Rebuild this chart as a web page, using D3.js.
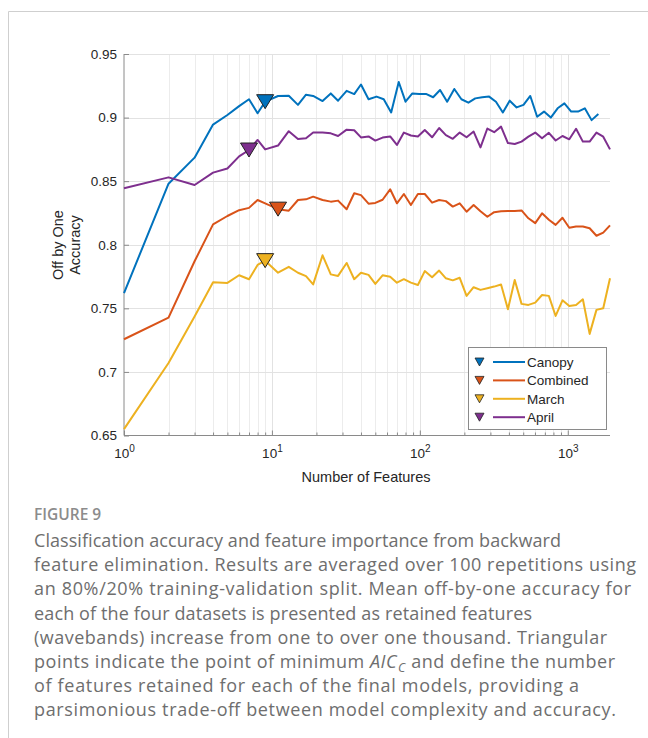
<!DOCTYPE html>
<html>
<head>
<meta charset="utf-8">
<script src="https://cdn.jsdelivr.net/npm/d3@7"></script>
<style>
  body { margin: 0; background: #fff; }
  svg { display: block; }
</style>
</head>
<body>
<svg id="fig" width="648" height="738"></svg>
<script>
// feature counts kept after each elimination step
const features = [1, 2, 3, 4, 5, 6, 7, 8, 9, 11, 13, 15, 17, 19, 22, 25, 28, 32, 36, 40, 45,
  50, 56, 63, 70, 78, 87, 97, 108, 121, 135, 150, 167, 186, 207, 231, 257, 286, 318, 354, 394,
  438, 487, 542, 603, 670, 745, 828, 921, 1024, 1138, 1265, 1406, 1563, 1737, 1930];
const canopyFeatures = [1, 2, 3, 4, 5, 6, 7, 8, 9, 11, 13, 15, 17, 19, 22, 25, 28, 32, 36, 40, 45,
  51, 57, 64, 72, 80, 89, 99, 110, 123, 137, 153, 171, 191, 213, 237, 264, 294, 327, 364, 405,
  451, 502, 558, 621, 691, 768, 854, 949, 1055, 1173, 1304, 1449, 1610];

const canopy = [0.762, 0.848, 0.8685, 0.8945, 0.902, 0.909, 0.9144, 0.9034, 0.9125,
  0.917, 0.9172, 0.910, 0.918, 0.917, 0.913, 0.919, 0.9133, 0.921, 0.9185, 0.926, 0.9144,
  0.9165, 0.9144, 0.904, 0.928, 0.9125, 0.919, 0.9186, 0.9186, 0.916, 0.9217,
  0.9125, 0.9225, 0.9144, 0.9117, 0.9151, 0.916, 0.9165, 0.9125, 0.904, 0.9133,
  0.908, 0.910, 0.917, 0.9007, 0.9047, 0.900, 0.9073, 0.9112, 0.9047, 0.9047,
  0.9073, 0.898, 0.9028];
const combined = [0.7257, 0.7427, 0.787, 0.816, 0.8226, 0.8272, 0.829, 0.8352, 0.8326,
  0.828, 0.8268, 0.8352, 0.8357, 0.8378, 0.8352, 0.8339, 0.8347, 0.8279, 0.8405, 0.839, 0.8323,
  0.8329, 0.8354, 0.8436, 0.8326, 0.8399, 0.8313, 0.8399, 0.8399, 0.8331, 0.8352,
  0.8343, 0.830, 0.8326, 0.826, 0.8313, 0.8264, 0.822, 0.8256, 0.8263, 0.8266,
  0.8266, 0.827, 0.8208, 0.817, 0.8247, 0.8197, 0.8156, 0.8212, 0.8134, 0.8143,
  0.8143, 0.813, 0.8071, 0.8095, 0.8152];
const march = [0.655, 0.707, 0.7435, 0.7705, 0.770, 0.776, 0.7729, 0.7841, 0.7875,
  0.778, 0.7826, 0.778, 0.7753, 0.7688, 0.7917, 0.7767, 0.7755, 0.7857, 0.7729, 0.778, 0.7763,
  0.7692, 0.776, 0.7748, 0.7702, 0.7729, 0.7702, 0.7684, 0.7793, 0.7745, 0.7797,
  0.7736, 0.772, 0.774, 0.7598, 0.7666, 0.7645, 0.7658, 0.7671, 0.7687, 0.7493,
  0.7723, 0.7535, 0.7527, 0.7545, 0.7605, 0.7598, 0.744, 0.7563, 0.7519, 0.7527,
  0.7571, 0.7299, 0.7488, 0.7501, 0.7736];
const april = [0.8444, 0.853, 0.847, 0.8567, 0.86, 0.8695, 0.8745, 0.8824, 0.875,
  0.878, 0.8893, 0.8832, 0.8837, 0.8882, 0.8882, 0.8876, 0.8855, 0.8905, 0.89, 0.8844, 0.8852,
  0.8819, 0.8843, 0.8852, 0.8785, 0.8882, 0.8859, 0.8852, 0.8902, 0.8845, 0.8918,
  0.8862, 0.8833, 0.8882, 0.8845, 0.889, 0.8766, 0.8914, 0.8885, 0.8929, 0.880,
  0.8792, 0.8811, 0.885, 0.8882, 0.8837, 0.888, 0.882, 0.8855, 0.8829, 0.8912,
  0.8811, 0.8811, 0.8882, 0.885, 0.875];

const seriesNames = ['Canopy', 'Combined', 'March', 'April'];
const seriesColors = ['#0072BD', '#D95319', '#EDB120', '#7E2F8E'];
const minAicFeatures = [9, 11, 9, 7];

const yTicks = [0.65, 0.7, 0.75, 0.8, 0.85, 0.9, 0.95];
const xMajor = [1, 10, 100, 1000];
const xMinor = [2, 3, 4, 5, 6, 7, 8, 9, 20, 30, 40, 50, 60, 70, 80, 90,
  200, 300, 400, 500, 600, 700, 800, 900];

const captionTitle = 'FIGURE 9';
const captionLines = [
  'Classification accuracy and feature importance from backward',
  'feature elimination. Results are averaged over 100 repetitions using',
  'an 80%/20% training-validation split. Mean off-by-one accuracy for',
  'each of the four datasets is presented as retained features',
  '(wavebands) increase from one to over one thousand. Triangular',
  'points indicate the point of minimum ',
  'of features retained for each of the final models, providing a',
  'parsimonious trade-off between model complexity and accuracy.'
];
// right end of each caption line in the reference
const captionEnds = [561, 636, 631, 532, 607, 615, 579, 616];

const svg = d3.select('#fig');
const font = 'Liberation Sans, Arial, Helvetica, sans-serif';

// figure frame
svg.append('path')
  .attr('d', 'M8.5,738 V11.5 H648')
  .attr('fill', 'none')
  .attr('stroke', '#cfcfcf')
  .attr('stroke-width', 1);

const x = d3.scaleLog().domain([1, 1930]).range([124, 610]);
const y = d3.scaleLinear().domain([0.65, 0.95]).range([435.5, 54]);

// grid
let grid = svg.append('g').attr('class', 'grid');
grid.selectAll('.vminor').data(xMinor)
  .join('line')
  .attr('class', 'vminor')
  .attr('x1', d => Math.round(x(d)) + 0.5).attr('x2', d => Math.round(x(d)) + 0.5)
  .attr('y1', y(0.95)).attr('y2', y(0.65))
  .attr('stroke', '#ececec');
grid.selectAll('.vmajor').data(xMajor.slice(1))
  .join('line')
  .attr('class', 'vmajor')
  .attr('x1', d => Math.round(x(d)) + 0.5).attr('x2', d => Math.round(x(d)) + 0.5)
  .attr('y1', y(0.95)).attr('y2', y(0.65))
  .attr('stroke', '#e2e2e2');
grid.selectAll('.hmajor').data(yTicks.slice(1))
  .join('line')
  .attr('class', 'hmajor')
  .attr('x1', x(1)).attr('x2', x(1930))
  .attr('y1', d => Math.round(y(d)) + 0.5).attr('y2', d => Math.round(y(d)) + 0.5)
  .attr('stroke', '#e2e2e2');

// axes
let yAxis = svg.append('g')
  .attr('transform', `translate(${x(1)},0)`)
  .call(d3.axisLeft(y).tickValues(yTicks).tickSize(-5).tickPadding(7).tickFormat(d => String(d)));

let xAxis = svg.append('g')
  .attr('transform', `translate(0,${y(0.65)})`)
  .call(d3.axisBottom(x).tickValues(xMajor).tickSize(-5).tickPadding(9).tickFormat(''));

svg.append('g')
  .attr('transform', `translate(0,${y(0.65)})`)
  .call(d3.axisBottom(x).tickValues(xMinor).tickSize(-3).tickFormat(''))
  .call(g => g.select('.domain').remove());

[yAxis, xAxis].forEach(g => {
  g.select('.domain').attr('stroke', '#8a8a8a');
  g.selectAll('text').attr('fill', '#262626').style('font-family', font).style('font-size', '13.5px');
});
svg.selectAll('.tick line').attr('stroke', '#8a8a8a');
// no outer tick caps
yAxis.select('.domain').attr('d', `M0,${y(0.95)}V${y(0.65)}`);
xAxis.select('.domain').attr('d', `M${x(1)},0H${x(1930)}`);

// 10^k labels
xAxis.selectAll('.tick').each(function (d) {
  const t = d3.select(this).select('text').attr('y', 22).attr('dy', null);
  t.append('tspan').text('10');
  t.append('tspan').attr('dy', -6).style('font-size', '10px').text(Math.round(Math.log10(d)));
});

// lines
const seriesData = [
  canopyFeatures.map((f, i) => [f, canopy[i]]),
  features.map((f, i) => [f, combined[i]]),
  features.map((f, i) => [f, march[i]]),
  features.map((f, i) => [f, april[i]])
];
const line = d3.line().x(d => x(d[0])).y(d => y(d[1]));

let plot = svg.append('g').attr('class', 'plot');
plot.selectAll('.series').data(seriesData)
  .join('path')
  .attr('class', 'series')
  .attr('d', line)
  .attr('fill', 'none')
  .attr('stroke', (d, i) => seriesColors[i])
  .attr('stroke-width', 2)
  .attr('stroke-linejoin', 'round');

// triangles at min AICc
const tri = (cx, cy, w, h) => `M${cx - w / 2},${cy - h / 2}L${cx + w / 2},${cy - h / 2}L${cx},${cy + h / 2}Z`;
plot.selectAll('.aic').data(seriesData)
  .join('path')
  .attr('class', 'aic')
  .attr('d', (d, i) => {
    const p = d.find(v => v[0] === minAicFeatures[i]);
    return tri(x(p[0]), y(p[1]), 17, 14);
  })
  .attr('fill', (d, i) => seriesColors[i])
  .attr('stroke', '#222')
  .attr('stroke-width', 1);

// legend
let legend = svg.append('g').attr('class', 'legend');
legend.append('rect')
  .attr('x', 468.5).attr('y', 347.5).attr('width', 138).attr('height', 82)
  .attr('fill', '#fff').attr('stroke', '#8a8a8a');
let items = legend.selectAll('.item').data(seriesNames)
  .join('g')
  .attr('class', 'item')
  .attr('transform', (d, i) => `translate(0,${362 + i * 18.4})`);
items.append('path')
  .attr('d', tri(479.5, 0, 9, 8))
  .attr('fill', (d, i) => seriesColors[i])
  .attr('stroke', '#222').attr('stroke-width', 0.8);
items.append('line')
  .attr('x1', 493).attr('x2', 525)
  .attr('stroke', (d, i) => seriesColors[i]).attr('stroke-width', 2);
items.append('text')
  .attr('x', 527).attr('y', 5)
  .style('font-family', font).style('font-size', '13.5px').attr('fill', '#262626')
  .text(d => d);

// axis titles
svg.append('text')
  .attr('x', 366).attr('y', 482)
  .attr('text-anchor', 'middle')
  .style('font-family', font).style('font-size', '14.5px').attr('fill', '#262626')
  .text('Number of Features');
svg.selectAll('.ylab').data(['Off by One', 'Accuracy'])
  .join('text')
  .attr('class', 'ylab')
  .attr('transform', (d, i) => `translate(${63 + i * 17},245) rotate(-90)`)
  .attr('text-anchor', 'middle')
  .style('font-family', font).style('font-size', '14.5px').attr('fill', '#262626')
  .text(d => d);

// caption
svg.append('text')
  .attr('x', 34).attr('y', 520)
  .style('font-family', 'Open Sans, sans-serif').style('font-size', '15.5px')
  .style('font-weight', 600).attr('fill', '#8c8c8c')
  .text(captionTitle);

let cap = svg.selectAll('.cap').data(captionLines)
  .join('text')
  .attr('class', 'cap')
  .attr('x', 34).attr('y', (d, i) => 547 + i * 24.2)
  .attr('textLength', (d, i) => captionEnds[i] - 34)
  .attr('lengthAdjust', 'spacing')
  .style('font-family', 'Open Sans, sans-serif').style('font-size', '18px')
  .attr('fill', '#6e6e6e')
  .text(d => d);

cap.filter((d, i) => i === 5).each(function () {
  const t = d3.select(this);
  t.append('tspan').style('font-style', 'italic').text('AIC');
  t.append('tspan').style('font-style', 'italic').style('font-size', '12.5px')
    .attr('dx', 1).attr('dy', 4).text('C');
  t.append('tspan').attr('dy', -4).text(' and define the number');
});
</script>
</body>
</html>
